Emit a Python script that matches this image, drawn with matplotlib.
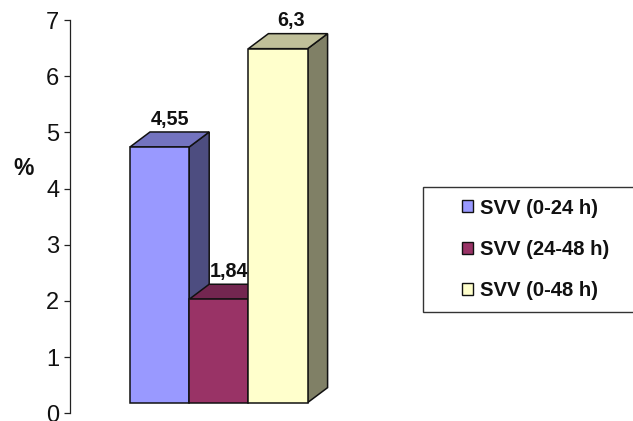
import matplotlib
matplotlib.use("Agg")
import matplotlib.pyplot as plt
from matplotlib.patches import Polygon, Patch, Rectangle

plt.rcParams["font.family"] = ["Liberation Sans", "DejaVu Sans"]

# Series values and labels
series_names = ["SVV (0-24 h)", "SVV (24-48 h)", "SVV (0-48 h)"]
values = [4.55, 1.84, 6.3]
value_labels = ["4,55", "1,84", "6,3"]
y_ticks = [0, 1, 2, 3, 4, 5, 6, 7]
unit_label = "%"

# Face colours: front, top and side of each column
front_colors = ["#9999FF", "#993366", "#FFFFCC"]
top_colors = ["#7373BF", "#732650", "#BFBF99"]
side_colors = ["#4D4D80", "#4D1A33", "#808066"]

W, H = 633, 421
fig = plt.figure(figsize=(W / 100, H / 100), dpi=100, facecolor="white")

ax_left, ax_right, ax_bottom, ax_top = 69.5, 330.0, 413.3, 20.0
ax = fig.add_axes([ax_left / W, 1 - ax_bottom / H,
                   (ax_right - ax_left) / W, (ax_bottom - ax_top) / H])
ax.set_ylim(0, 7)

# One x unit is one column width; the floor sits just above zero
px_per_x = 59.2
x_start = (130 - ax_left) / px_per_x
ax.set_xlim(-x_start, (ax_right - ax_left) / px_per_x - x_start)
floor = 0.19
depth_x = 20 / px_per_x
depth_y = 15 / ((ax_bottom - ax_top) / 7)
edge = dict(edgecolor="#111111", linewidth=1.1, joinstyle="miter")

label_nudge = [0, 0.01, 0.05]
for i, v in enumerate(values):
    top = floor + v
    ax.add_patch(Polygon([(i + 1, floor), (i + 1 + depth_x, floor + depth_y),
                          (i + 1 + depth_x, top + depth_y), (i + 1, top)],
                         facecolor=side_colors[i], clip_on=False, **edge))
    ax.add_patch(Polygon([(i, top), (i + depth_x, top + depth_y),
                          (i + 1 + depth_x, top + depth_y), (i + 1, top)],
                         facecolor=top_colors[i], clip_on=False, **edge))
    ax.bar(i, v, width=1, bottom=floor, align="edge", color=front_colors[i],
           clip_on=False, **edge)
    ax.text(i + 0.5 + depth_x / 2 + label_nudge[i], top + depth_y + 0.13,
            value_labels[i], ha="center", va="baseline",
            fontsize=14.2, fontweight="bold", color="#111111", zorder=5)

for name in ("top", "right", "bottom"):
    ax.spines[name].set_visible(False)
ax.spines["left"].set_color("#222222")
ax.spines["left"].set_linewidth(0.9)
ax.set_xticks([])
ax.set_yticks(y_ticks)
ax.tick_params(axis="y", length=4.3, width=0.9, color="#222222", pad=3,
               labelsize=17, labelcolor="#111111")
ax.set_ylabel(unit_label, rotation=0, fontsize=16.5, fontweight="bold",
              color="#111111", ha="center", va="center")
ax.yaxis.set_label_coords((24 - ax_left) / (ax_right - ax_left),
                          (ax_bottom - 169) / (ax_bottom - ax_top))

# Legend frame runs off the right edge of the figure
fig.add_artist(Rectangle((422.5 / W, 1 - 311.5 / H), 260 / W, 125 / H,
                         transform=fig.transFigure, facecolor="white",
                         edgecolor="#333333", linewidth=1.0))
handles = [Patch(facecolor=c, edgecolor="#111111", linewidth=1.0) for c in front_colors]
leg = fig.legend(handles, series_names, loc="upper left", frameon=False,
                 bbox_to_anchor=(462 / W, 1 - 198.5 / H), borderaxespad=0, borderpad=0,
                 handlelength=0.55, handleheight=0.55, handletextpad=0.36,
                 labelspacing=1.1, prop=dict(size=14.6, weight="bold"),
                 labelcolor="#111111")

fig.savefig("out.png", dpi=100, facecolor="white")
